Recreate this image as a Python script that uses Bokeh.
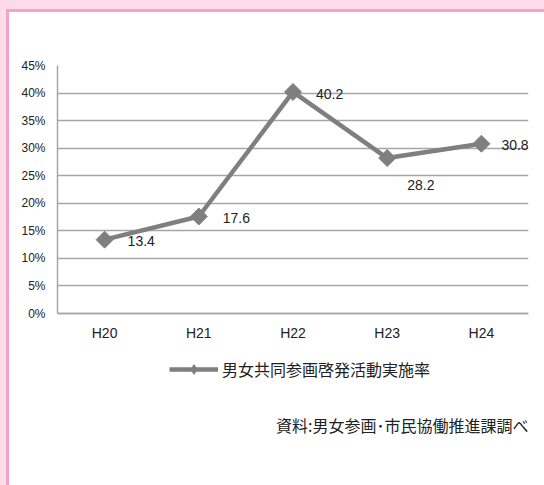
import math

from bokeh.core.properties import value
from bokeh.embed import file_html
from bokeh.layouts import column
from bokeh.models import (ColumnDataSource, FactorRange, FixedTicker, Label,
                          LabelSet, Legend, LegendItem, PrintfTickFormatter,
                          Range1d)
from bokeh.plotting import figure
from bokeh.resources import INLINE

# --- data -------------------------------------------------------------
years = ["H20", "H21", "H22", "H23", "H24"]
rates = [13.4, 17.6, 40.2, 28.2, 30.8]          # percent
y_ticks = [0, 5, 10, 15, 20, 25, 30, 35, 40, 45]
series_name = "男女共同参画啓発活動実施率"
source_note = "資料:男女参画･市民協働推進課調べ"

# --- value label placement (pixel offsets from each point) --------------
label_dx = [23, 24, 23, 20, 20]
label_dy = [-1, -1, -2, -27, -1]

GRAY = "#7f7f7f"
GRID = "#a6a6a6"
TEXT = "#222222"
NUM_FONT = "Liberation Sans"
JP_FONT = "Noto Sans CJK JP"

# The frame runs down to the bottom of the panel so the legend and the
# source note can live inside it; the value axis only spans 0..45 %.
FIG_W, FIG_H = 535, 473
TOP, BOTTOM, LEFT, RIGHT = 53, 10, 48, 16
PLOT_H = 248                       # pixels between 0 % and 45 %
frame_h = FIG_H - TOP - BOTTOM
y_min = -(frame_h - PLOT_H) * 45 / PLOT_H

src = ColumnDataSource(dict(
    year=years,
    rate=rates,
    label=[f"{r:.1f}" for r in rates],
    dx=label_dx,
    dy=label_dy,
))

p = figure(
    width=FIG_W, height=FIG_H,
    x_range=FactorRange(*years, range_padding=0),
    y_range=Range1d(y_min, 45),
    output_backend="svg", toolbar_location=None,
    min_border_left=LEFT, min_border_right=RIGHT,
    min_border_top=TOP, min_border_bottom=BOTTOM,
    margin=(3, 0, 0, 3),
    styles={"background-color": "white"},
)
p.background_fill_color = "white"
p.border_fill_color = "white"
p.outline_line_color = None

# axes
p.yaxis.ticker = FixedTicker(ticks=y_ticks)
p.yaxis.formatter = PrintfTickFormatter(format="%d%%")
p.yaxis.bounds = (0, 45)
p.xaxis.fixed_location = 0
for ax in (p.xaxis[0], p.yaxis[0]):
    ax.axis_line_color = GRID
    ax.axis_line_width = 1.5
    ax.major_tick_line_color = None
    ax.minor_tick_line_color = None
    ax.major_tick_out = 0
    ax.major_tick_in = 0
    ax.major_label_text_color = TEXT
    ax.major_label_text_font = NUM_FONT
p.yaxis.major_label_text_font_size = "12px"
p.yaxis.major_label_standoff = 12
p.xaxis.major_label_text_font_size = "14px"
p.xaxis.major_label_standoff = 11

p.xgrid.grid_line_color = None
p.ygrid.ticker = FixedTicker(ticks=y_ticks)
p.ygrid.grid_line_color = GRID
p.ygrid.grid_line_width = 1.5

# series: a small diamond sits under each rotated-square marker so the
# legend shows a diamond as well
line_r = p.line("year", "rate", source=src, line_color=GRAY, line_width=4.5)
key_r = p.scatter("year", "rate", source=src, marker="diamond", size=6,
                  fill_color=GRAY, line_color=GRAY)
mark_r = p.scatter("year", "rate", source=src, marker="square", size=12,
                   angle=math.pi / 4, fill_color=GRAY, line_color=GRAY)

labels = LabelSet(x="year", y="rate", text="label", source=src,
                  x_offset="dx", y_offset="dy",
                  text_align="left", text_baseline="middle",
                  text_font=value(NUM_FONT), text_font_size="14px",
                  text_color=TEXT)
p.add_layout(labels)

legend = Legend(
    items=[LegendItem(label=series_name, renderers=[line_r, key_r])],
    location=(112, 94), orientation="horizontal",
    padding=0, margin=0, spacing=0,
    border_line_color=None, background_fill_alpha=0,
    glyph_width=49, glyph_height=24, label_height=20, label_standoff=4,
    label_text_font=JP_FONT, label_text_font_size="16px",
    label_text_color=TEXT,
)
p.add_layout(legend, "center")

note = Label(x=FIG_W - LEFT - RIGHT, y=51, x_units="screen", y_units="screen",
             text=source_note, text_align="right", text_baseline="middle",
             text_font=JP_FONT, text_font_size="16px", text_color=TEXT)
p.add_layout(note)

# pink page frame with a darker pink edge around the white panel
edge = column(p, width=538, height=476, margin=(9, 0, 0, 6),
              styles={"background-color": "#f4a3c4"})
page = column(edge, width=544, height=485,
              styles={"background-color": "#fddbe9"})

open("out.html", "w").write(file_html(page, INLINE))
